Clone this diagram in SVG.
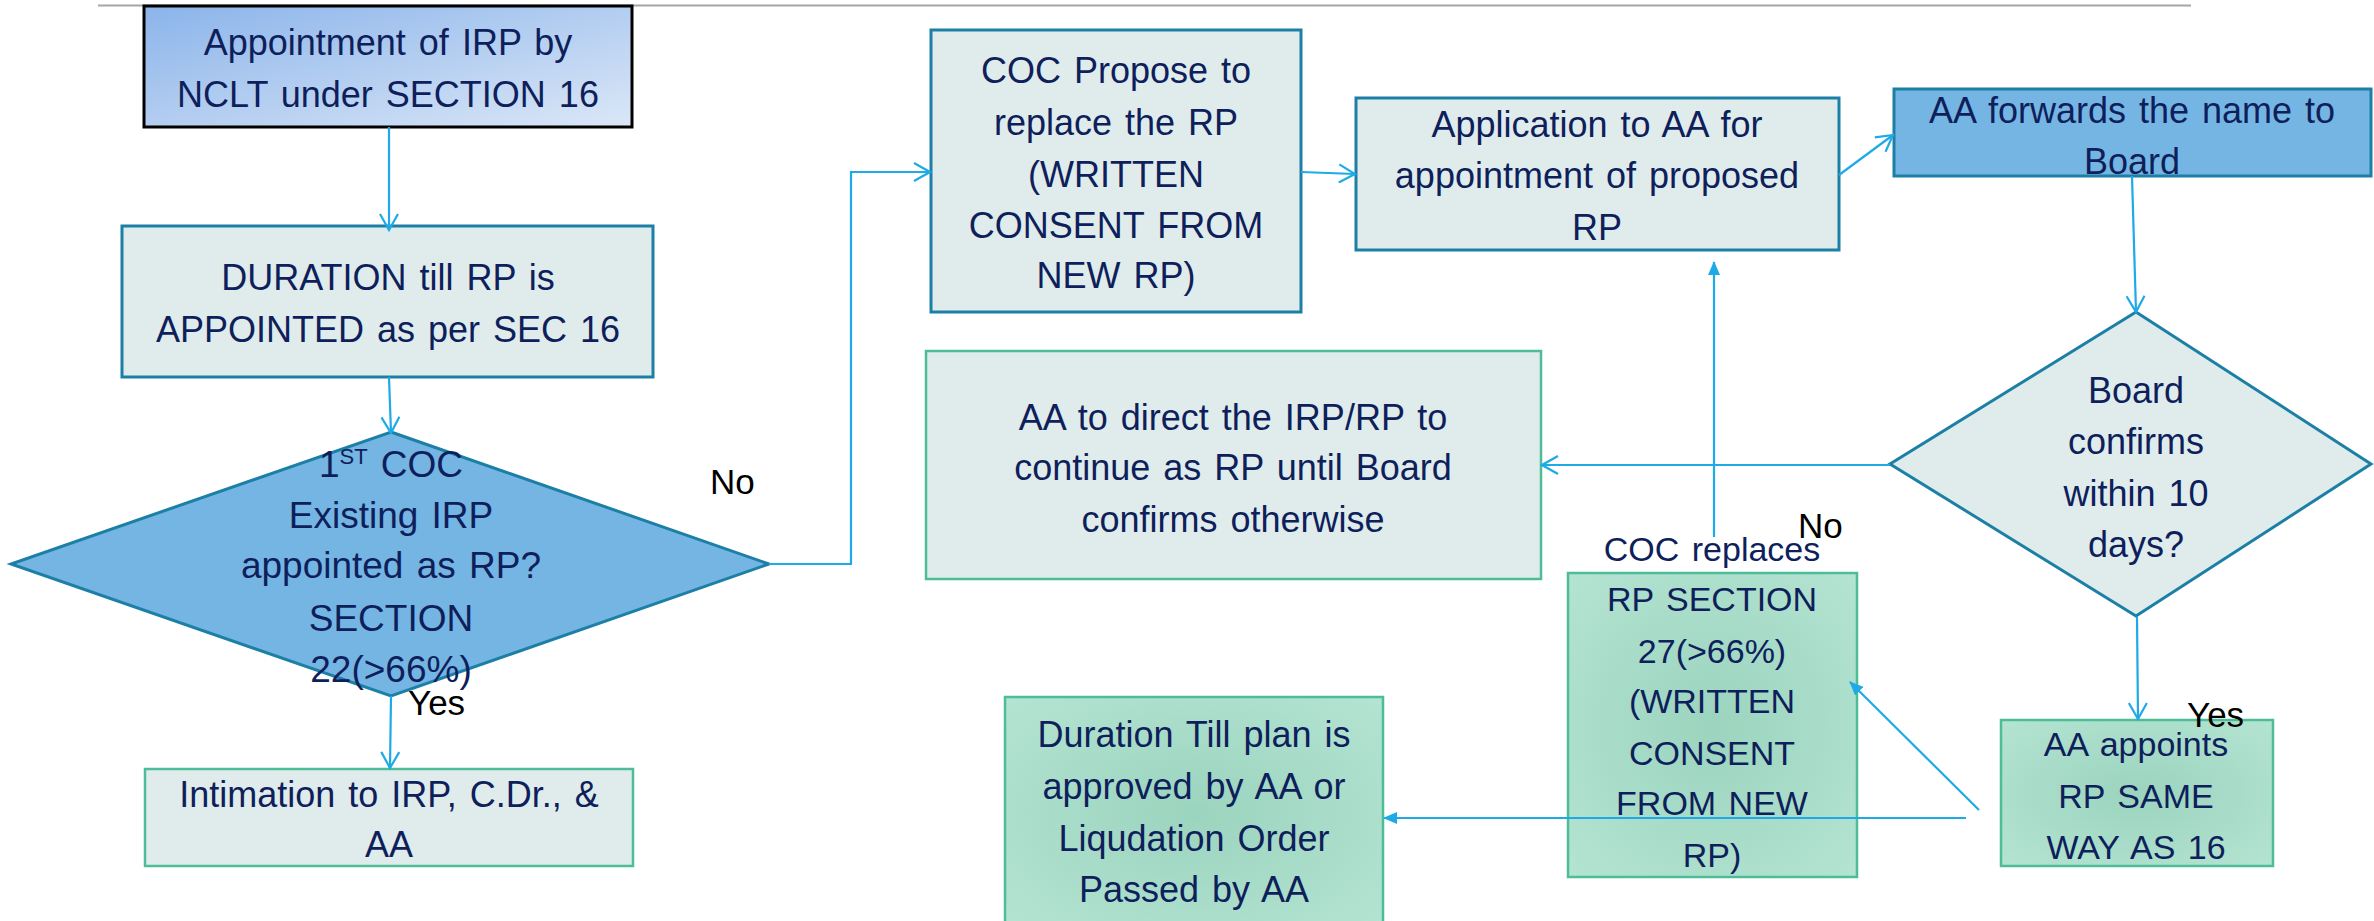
<svg xmlns="http://www.w3.org/2000/svg" width="2374" height="921" viewBox="0 0 2374 921">
<defs>
<style>
.t{font-family:"Liberation Sans",Arial,sans-serif;font-size:36px;fill:#0e1f5b;text-anchor:middle;word-spacing:3px}
.s34{font-size:34px}
.s36{font-size:37px}
.lbl{font-family:"Liberation Sans",Arial,sans-serif;font-size:35px;fill:#000}
.teal{fill:#e0ecec;stroke:#1c7fa6;stroke-width:3}
.tealg{fill:#e0ecec;stroke:#4dbd98;stroke-width:2.5}
.green{fill:url(#gr);stroke:#4dbd98;stroke-width:2.5}
.blue{fill:#75b5e3;stroke:#1c7fa6;stroke-width:3}
.c{fill:none;stroke:#1eaae7;stroke-width:2.2}
.co{marker-end:url(#open)}
.cf{marker-end:url(#fill)}
</style>
<linearGradient id="g1" x1="0" y1="0" x2="1" y2="1">
<stop offset="0" stop-color="#8bb4ea"/>
<stop offset="1" stop-color="#dbe7f7"/>
</linearGradient>
<radialGradient id="gr" cx="0.5" cy="0.5" r="0.7">
<stop offset="0" stop-color="#9bd4be"/>
<stop offset="1" stop-color="#b4e4d2"/>
</radialGradient>
<marker id="open" viewBox="0 0 20 20" refX="18" refY="10" markerWidth="20" markerHeight="20" markerUnits="userSpaceOnUse" orient="auto">
<path d="M2,1 L18,10 L2,19" fill="none" stroke="#1eaae7" stroke-width="2.2"/>
</marker>
<marker id="fill" viewBox="0 0 14 12" refX="13" refY="6" markerWidth="14" markerHeight="12" markerUnits="userSpaceOnUse" orient="auto">
<path d="M0,0 L14,6 L0,12 z" fill="#1eaae7"/>
</marker>
</defs>
<rect width="2374" height="921" fill="#fff"/>
<line x1="98" y1="5.5" x2="2191" y2="5.5" stroke="#a6a6a6" stroke-width="2"/>

<g id="n-appoint">
<rect x="144" y="6" width="488" height="121" fill="url(#g1)" stroke="#000" stroke-width="3"/>
<text class="t" x="388" y="55">Appointment of IRP by</text>
<text class="t" x="388" y="107">NCLT under SECTION 16</text>
</g>
<g id="n-duration">
<rect class="teal" x="122" y="226" width="531" height="151"/>
<text class="t" x="388" y="290">DURATION till RP is</text>
<text class="t" x="388" y="342">APPOINTED as per SEC 16</text>
</g>
<g id="n-coc1">
<polygon class="blue" points="391,432 769,564 391,696 11,564"/>
<text class="t s36" x="391" y="477">1<tspan font-size="22" dy="-13">ST</tspan><tspan dy="13"> COC</tspan></text>
<text class="t s36" x="391" y="528">Existing IRP</text>
<text class="t s36" x="391" y="578">appointed as RP?</text>
<text class="t s36" x="391" y="631">SECTION</text>
<text class="t s36" x="391" y="682">22(&gt;66%)</text>
</g>
<g id="n-intimation">
<rect class="tealg" x="145" y="769" width="488" height="97"/>
<text class="t" x="389" y="807">Intimation to IRP, C.Dr., &amp;</text>
<text class="t" x="389" y="857">AA</text>
</g>
<g id="n-propose">
<rect class="teal" x="931" y="30" width="370" height="282"/>
<text class="t" x="1116" y="83">COC Propose to</text>
<text class="t" x="1116" y="135">replace the RP</text>
<text class="t" x="1116" y="187">(WRITTEN</text>
<text class="t" x="1116" y="238">CONSENT FROM</text>
<text class="t" x="1116" y="288">NEW RP)</text>
</g>
<g id="n-application">
<rect class="teal" x="1356" y="98" width="483" height="152"/>
<text class="t" x="1597" y="137">Application to AA for</text>
<text class="t" x="1597" y="188">appointment of proposed</text>
<text class="t" x="1597" y="240">RP</text>
</g>
<g id="n-forwards">
<rect class="blue" x="1894" y="89" width="477" height="87"/>
<text class="t" x="2132" y="123">AA forwards the name to</text>
<text class="t" x="2132" y="174">Board</text>
</g>
<g id="n-board">
<polygon class="teal" points="2136,312 2371,464 2136,616 1890,464"/>
<text class="t" x="2136" y="403">Board</text>
<text class="t" x="2136" y="454">confirms</text>
<text class="t" x="2136" y="506">within 10</text>
<text class="t" x="2136" y="557">days?</text>
</g>
<g id="n-direct">
<rect class="tealg" x="926" y="351" width="615" height="228"/>
<text class="t" x="1233" y="430">AA to direct the IRP/RP to</text>
<text class="t" x="1233" y="480">continue as RP until Board</text>
<text class="t" x="1233" y="532">confirms otherwise</text>
</g>
<g id="n-replaces">
<rect class="green" x="1568" y="573" width="289" height="304"/>
<text class="t s34" x="1712" y="561">COC replaces</text>
<text class="t s34" x="1712" y="611">RP SECTION</text>
<text class="t s34" x="1712" y="663">27(&gt;66%)</text>
<text class="t s34" x="1712" y="713">(WRITTEN</text>
<text class="t s34" x="1712" y="765">CONSENT</text>
<text class="t s34" x="1712" y="815">FROM NEW</text>
<text class="t s34" x="1712" y="867">RP)</text>
</g>
<g id="n-appoints">
<rect class="green" x="2001" y="720" width="272" height="146"/>
<text class="t s34" x="2136" y="756">AA appoints</text>
<text class="t s34" x="2136" y="808">RP SAME</text>
<text class="t s34" x="2136" y="859">WAY AS 16</text>
</g>
<g id="n-plan">
<rect class="green" x="1005" y="697" width="378" height="232"/>
<text class="t" x="1194" y="747">Duration Till plan is</text>
<text class="t" x="1194" y="799">approved by AA or</text>
<text class="t" x="1194" y="851">Liqudation Order</text>
<text class="t" x="1194" y="902">Passed by AA</text>
</g>

<g id="connectors">
<path class="c co" d="M389,127 L389,230"/>
<path class="c co" d="M389,377 L391,433"/>
<path class="c co" d="M391,696 L390,768"/>
<path class="c co" d="M769,564 L851,564 L851,172 L930,172"/>
<path class="c co" d="M1301,172 L1355,174"/>
<path class="c co" d="M1839,175 L1893,135"/>
<path class="c co" d="M2132,176 L2136,312"/>
<path class="c co" d="M1890,465 L1542,465"/>
<path class="c co" d="M2137,617 L2138,719"/>
<path class="c cf" d="M1714,537 L1714,262"/>
<path class="c cf" d="M1979,810 L1850,682"/>
<path class="c cf" d="M1966,818 L1384,818"/>
</g>
<g id="labels">
<text class="lbl" x="710" y="494">No</text>
<text class="lbl" x="408" y="715">Yes</text>
<text class="lbl" x="1798" y="538">No</text>
<text class="lbl" x="2187" y="727">Yes</text>
</g>
</svg>
